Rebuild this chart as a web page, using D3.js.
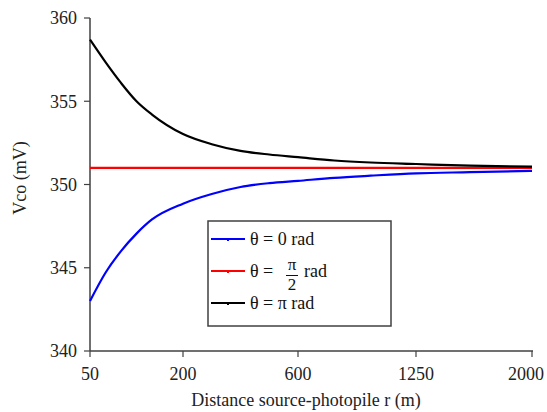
<!DOCTYPE html>
<html>
<head>
<meta charset="utf-8">
<script src="https://cdn.jsdelivr.net/npm/d3@7"></script>
<style>
  body { margin: 0; background: #fff; }
</style>
</head>
<body>
<script>
// distances (m) and Vco values (mV)
var distances = [50, 75, 100, 125, 150, 200, 300, 400, 500, 600, 800, 1000, 1250, 1600, 2000];
var vcoTheta0 = [343.0, 344.7, 346.0, 347.05, 347.9, 348.85, 349.43, 349.85, 350.08, 350.22, 350.4, 350.53, 350.67, 350.74, 350.82];
var vcoThetaHalfPi = [351, 351, 351, 351, 351, 351, 351, 351, 351, 351, 351, 351, 351, 351, 351];
var vcoThetaPi = [358.7, 357.35, 356.1, 355.0, 354.2, 353.03, 352.42, 352.02, 351.8, 351.64, 351.44, 351.32, 351.23, 351.13, 351.07];
var xTicks = [50, 200, 600, 1250, 2000];
var yTicks = [340, 345, 350, 355, 360];

var width = 547, height = 412;
var serif = "'Liberation Serif', 'DejaVu Serif', 'Times New Roman', serif";

var svg = d3.select("body").append("svg")
    .attr("width", width)
    .attr("height", height)
    .attr("font-family", serif)
    .style("font-family", serif);

// x axis ticks are not evenly spread in value, so piecewise scale
var x = d3.scaleLinear().domain(xTicks).range([90, 183, 298, 416, 532]);
var y = d3.scaleLinear().domain([340, 360]).range([351, 18]);

var axisColor = "#404040";

// y axis
svg.append("line")
    .attr("x1", 90).attr("x2", 90)
    .attr("y1", y(360)).attr("y2", y(340))
    .attr("stroke", axisColor).attr("stroke-width", 1.5);

svg.selectAll(".ytick")
    .data(yTicks)
    .enter().append("line")
    .attr("x1", 84).attr("x2", 90)
    .attr("y1", (d) => { return y(d); })
    .attr("y2", (d) => { return y(d); })
    .attr("stroke", axisColor).attr("stroke-width", 1.2);

svg.selectAll(".ylabel")
    .data(yTicks)
    .enter().append("text")
    .attr("x", 77)
    .attr("y", (d) => { return y(d); })
    .attr("dy", "0.35em")
    .attr("text-anchor", "end")
    .attr("font-size", 18)
    .attr("fill", "#222")
    .text((d) => { return d; });

// x axis
svg.append("line")
    .attr("x1", x(50)).attr("x2", x(2000) + 1)
    .attr("y1", 351).attr("y2", 351)
    .attr("stroke", axisColor).attr("stroke-width", 1.5);

svg.selectAll(".xtick")
    .data(xTicks)
    .enter().append("line")
    .attr("x1", (d) => { return x(d); })
    .attr("x2", (d) => { return x(d); })
    .attr("y1", 351).attr("y2", 357)
    .attr("stroke", axisColor).attr("stroke-width", 1.2);

// the last label sits a little left of its tick, flush with the edge
svg.selectAll(".xlabel")
    .data(xTicks)
    .enter().append("text")
    .attr("x", (d, i) => { return i === xTicks.length - 1 ? 544 : x(d); })
    .attr("y", 380)
    .attr("text-anchor", (d, i) => { return i === xTicks.length - 1 ? "end" : "middle"; })
    .attr("font-size", 18)
    .attr("fill", "#222")
    .text((d) => { return d; });

// axis titles
svg.append("text")
    .attr("x", 306).attr("y", 406)
    .attr("text-anchor", "middle")
    .attr("font-size", 18)
    .attr("fill", "#222")
    .text("Distance source-photopile r (m)");

svg.append("text")
    .attr("transform", "translate(26,178) rotate(-90)")
    .attr("text-anchor", "middle")
    .attr("font-size", 18)
    .attr("fill", "#222")
    .text("Vco (mV)");

// curves
var series = [
    { values: vcoThetaHalfPi, color: "#ff0000" },
    { values: vcoTheta0, color: "#0000ff" },
    { values: vcoThetaPi, color: "#000000" }
];

var valueline = d3.line()
    .x((d) => { return x(d.r); })
    .y((d) => { return y(d.v); })
    .curve(d3.curveMonotoneX);

series.forEach((s) => {
    var data = distances.map((r, i) => { return { r: r, v: s.values[i] }; });
    svg.append("path")
        .datum(data)
        .attr("fill", "none")
        .attr("stroke", s.color)
        .attr("stroke-width", 2.2)
        .attr("d", valueline);
});

// legend
var legend = svg.append("g");
legend.append("rect")
    .attr("x", 208).attr("y", 221)
    .attr("width", 183).attr("height", 105)
    .attr("fill", "#fff")
    .attr("stroke", axisColor).attr("stroke-width", 1.5);

var legendRows = [
    { color: "#0000ff", y: 239 },
    { color: "#ff0000", y: 271 },
    { color: "#000000", y: 303 }
];

legendRows.forEach((row) => {
    legend.append("line")
        .attr("x1", 211).attr("x2", 245)
        .attr("y1", row.y).attr("y2", row.y)
        .attr("stroke", row.color).attr("stroke-width", 2.2);
    legend.append("rect")
        .attr("x", 227).attr("y", row.y - 1)
        .attr("width", 2).attr("height", 3)
        .attr("fill", row.color);
});

legend.append("text")
    .attr("x", 250).attr("y", 239).attr("dy", "0.35em")
    .attr("font-size", 18).attr("fill", "#111")
    .text("\u03b8 = 0 rad");

legend.append("text")
    .attr("x", 250).attr("y", 271).attr("dy", "0.35em")
    .attr("font-size", 18).attr("fill", "#111")
    .text("\u03b8 =");
legend.append("text")
    .attr("x", 292).attr("y", 270)
    .attr("text-anchor", "middle")
    .attr("font-size", 17).attr("fill", "#111")
    .text("\u03c0");
legend.append("line")
    .attr("x1", 286).attr("x2", 298)
    .attr("y1", 275.5).attr("y2", 275.5)
    .attr("stroke", "#111").attr("stroke-width", 1);
legend.append("text")
    .attr("x", 292).attr("y", 290)
    .attr("text-anchor", "middle")
    .attr("font-size", 17).attr("fill", "#111")
    .text("2");
legend.append("text")
    .attr("x", 304).attr("y", 271).attr("dy", "0.35em")
    .attr("font-size", 18).attr("fill", "#111")
    .text("rad");

legend.append("text")
    .attr("x", 250).attr("y", 303).attr("dy", "0.35em")
    .attr("font-size", 18).attr("fill", "#111")
    .text("\u03b8 = \u03c0 rad");
</script>
</body>
</html>
